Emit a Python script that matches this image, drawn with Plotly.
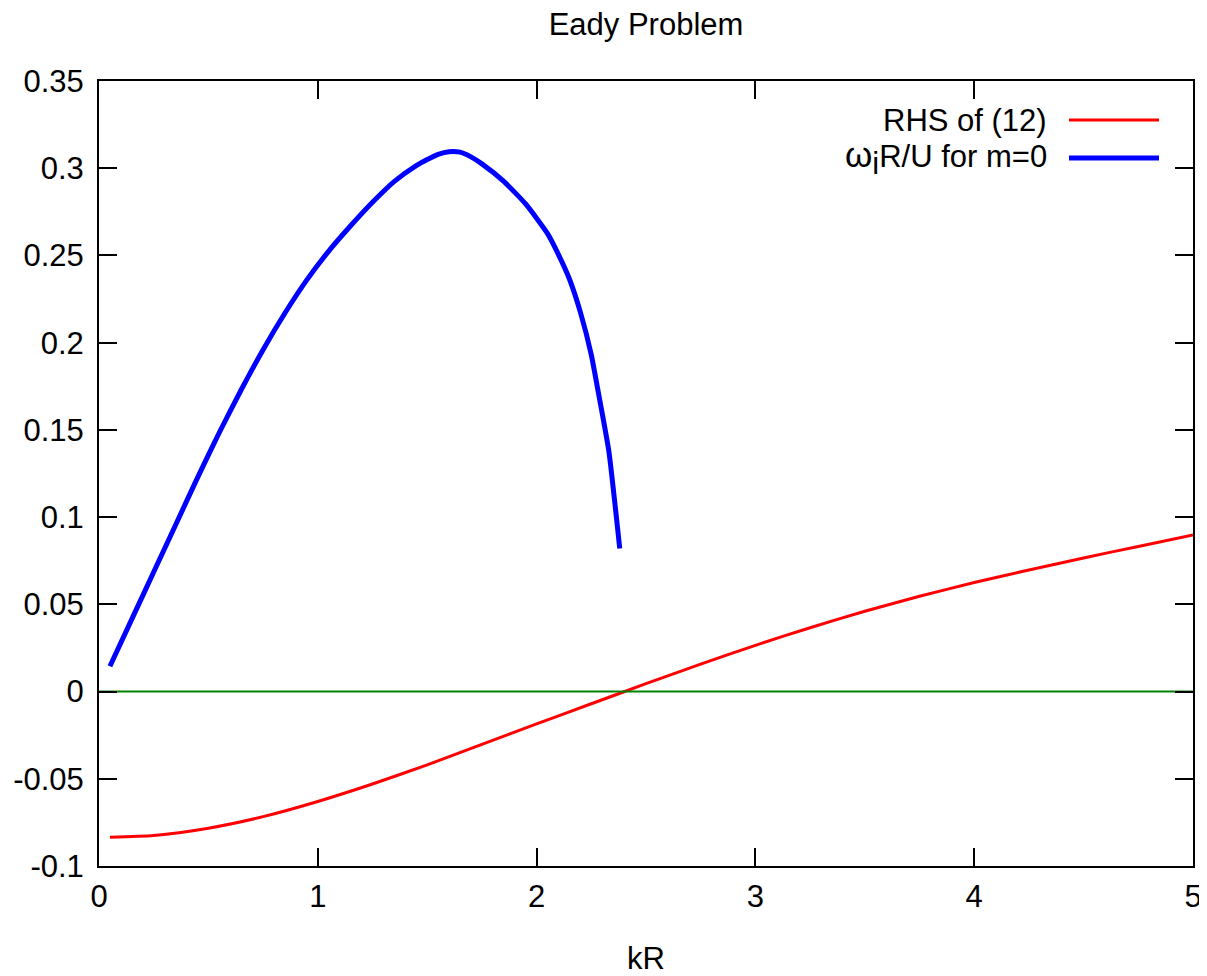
import plotly.graph_objects as go

# ---- data ----
kr_rhs = [0.05, 0.25, 0.5, 0.75, 1.0, 1.25, 1.5, 1.75, 2.0, 2.25, 2.5, 2.75,
          3.0, 3.25, 3.5, 3.75, 4.0, 4.25, 4.5, 4.75, 5.0]
rhs_vals = [-0.0835, -0.0825, -0.0783, -0.0717, -0.0630, -0.0530, -0.0420,
            -0.0303, -0.0185, -0.0070, 0.0045, 0.0157, 0.0265, 0.0366, 0.0460,
            0.0546, 0.0625, 0.0697, 0.0766, 0.0832, 0.0898]

kr_omega = [0.05, 0.15, 0.25, 0.35, 0.45, 0.55, 0.65, 0.75, 0.85, 0.95, 1.05,
            1.15, 1.25, 1.35, 1.45, 1.5, 1.55, 1.6, 1.65, 1.7, 1.75, 1.85,
            1.95, 2.05, 2.1, 2.15, 2.2, 2.25, 2.28, 2.33, 2.38]
omega_vals = [0.0145, 0.0415, 0.0685, 0.0955, 0.1225, 0.1485, 0.173, 0.196,
              0.217, 0.236, 0.2525, 0.267, 0.2805, 0.2925, 0.3015, 0.305,
              0.308, 0.3095, 0.3092, 0.3065, 0.3025, 0.2925, 0.2795, 0.2625,
              0.2505, 0.2365, 0.2175, 0.193, 0.173, 0.138, 0.082]

zero_x = [0, 5]
zero_y = [0, 0]

series_names = ["RHS of (12)",
                "<span style='font-size:35px'>ω</span>"
                "<sub><span style='font-size:31px'>i</span></sub>R/U for m=0"]
series_colors = ["#ff0000", "#0000ff"]
series_widths = [3, 5]

x_ticks = [0, 1, 2, 3, 4, 5]
y_ticks = [-0.1, -0.05, 0, 0.05, 0.1, 0.15, 0.2, 0.25, 0.3, 0.35]
y_tick_text = ["-0.1", "-0.05", "0", "0.05", "0.1", "0.15", "0.2", "0.25", "0.3", "0.35"]

FONT = "Liberation Sans, Arial, sans-serif"
FS = 31

fig = go.Figure()
fig.add_trace(go.Scatter(x=kr_rhs, y=rhs_vals, mode="lines", name="RHS of (12)",
                         line=dict(color=series_colors[0], width=series_widths[0],
                                   shape="spline", smoothing=0.6),
                         showlegend=False))
fig.add_trace(go.Scatter(x=kr_omega, y=omega_vals, mode="lines", name="ω_i R/U for m=0",
                         line=dict(color=series_colors[1], width=series_widths[1],
                                   shape="spline", smoothing=0.5),
                         showlegend=False))
fig.add_trace(go.Scatter(x=zero_x, y=zero_y, mode="lines",
                         line=dict(color="#008000", width=2), showlegend=False))

# page has an 8px body margin; figure is sized to fill the rest of the window
OFF = 8
W, H = 1207 - OFF, 976 - OFF
L, T = 99 - OFF, 81 - OFF
R = W - (1193 - OFF)
B = H - (866 - OFF)
pw, ph = W - L - R, H - T - B

# gnuplot-style key: text on the left, sample on the right (page pixel positions)
row_px = [120, 158]
for i, name in enumerate(series_names):
    yp = (866 - row_px[i]) / ph
    fig.add_annotation(xref="paper", yref="paper", x=(1049 - 99) / pw, y=yp,
                       xanchor="right", yanchor="middle", text=name, showarrow=False,
                       font=dict(family=FONT, size=FS, color="black"))
    fig.add_shape(type="line", xref="paper", yref="paper",
                  x0=(1069 - 99) / pw, x1=(1159 - 99) / pw, y0=yp, y1=yp,
                  line=dict(color=series_colors[i], width=series_widths[i]))

axis_common = dict(showline=True, linecolor="black", linewidth=2, mirror="ticks",
                   ticks="inside", ticklen=18, tickwidth=2, tickcolor="black",
                   showgrid=False, zeroline=False, automargin=False,
                   tickfont=dict(family=FONT, size=FS, color="black"))

fig.update_layout(
    width=W, height=H,
    margin=dict(l=L, r=R, t=T, b=B, autoexpand=False),
    plot_bgcolor="white", paper_bgcolor="white",
    title=dict(text="Eady Problem", x=(L + pw / 2) / W, xanchor="center",
               y=1 - (24 - OFF) / H, yanchor="middle", yref="container", automargin=False,
               pad=dict(t=0, b=0, l=0, r=0),
               font=dict(family=FONT, size=FS, color="black")),
    xaxis=dict(range=[0, 5], tickvals=x_ticks, ticklabelstandoff=2,
               title=dict(text="kR", standoff=38, font=dict(family=FONT, size=FS, color="black")),
               **axis_common),
    yaxis=dict(range=[-0.1, 0.35], tickvals=y_ticks, ticktext=y_tick_text,
               ticklabelstandoff=7, **axis_common),
)

fig.write_html("out.html")
